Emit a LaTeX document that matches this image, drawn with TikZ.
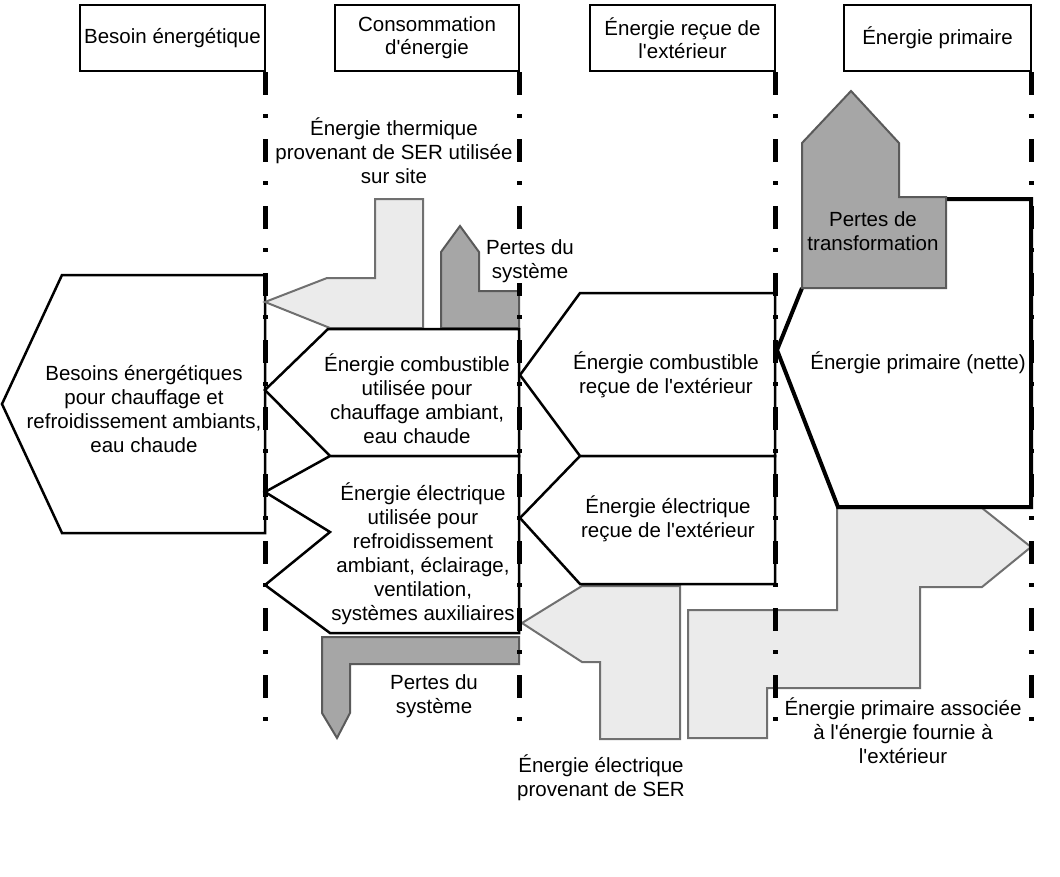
\documentclass[tikz,border=0pt]{standalone}
\usepackage{fontspec}
\setmainfont{Liberation Sans}[Ligatures=TeXOff]
\definecolor{lightfill}{HTML}{EBEBEB}
\definecolor{lightline}{HTML}{707070}
\definecolor{darkfill}{HTML}{A6A6A6}
\definecolor{darkline}{HTML}{5A5A5A}
\tikzset{
  lbl/.style={align=center, font=\fontsize{20.5}{24}\selectfont, inner sep=0pt},
  hdr/.style={draw=black, line width=1.5pt, fill=white, align=center,
    font=\fontsize{20.5}{23}\selectfont, inner sep=0pt, minimum height=66pt},
  flow/.style={draw=black, line width=2.5pt, fill=white, line join=miter},
  netflow/.style={draw=black, line width=4pt, line join=miter},
  lightflow/.style={draw=lightline, line width=2pt, fill=lightfill, line join=miter},
  darkflow/.style={draw=darkline, line width=2pt, fill=darkfill, line join=miter},
  sepline/.style={line width=5pt, dash pattern=on 23pt off 19pt on 4pt off 21pt},
}
\begin{document}
\begin{tikzpicture}[x=1pt,y=-1pt]
\useasboundingbox (0,0) rectangle (1060,876);
\fill[white] (0,0) rectangle (1060,876);

% header boxes
\node[hdr, minimum width=185pt] (h1) at (172.5,38) {Besoin énergétique};
\node[hdr, minimum width=184pt] (h2) at (427,38) {Consommation\\d'énergie};
\node[hdr, minimum width=185pt] (h3) at (682.5,38) {Énergie reçue de\\l'extérieur};
\node[hdr, minimum width=187pt] (h4) at (937.5,38) {Énergie primaire};

% column 1: needs
\draw[flow] (265,275) -- (62,275) -- (2,404) -- (62,533) -- (265,533) -- cycle;

% column 2: consumption
\draw[lightflow] (423,328) -- (423,199) -- (375,199) -- (375,278) -- (327,278) -- (265,302) -- (330,328) -- cycle;
\draw[darkflow] (441,328) -- (441,252) -- (460,226) -- (479,252) -- (479,291) -- (519,291) -- (519,328) -- cycle;
\draw[darkflow] (519,637) -- (322,637) -- (322,713) -- (337,738) -- (350,713) -- (350,664) -- (519,664) -- cycle;
\draw[flow] (519,329) -- (328,329) -- (265,390) -- (330,456) -- (519,456) -- cycle;
\draw[flow] (519,456) -- (330,456) -- (265,492) -- (330,532) -- (265,585) -- (330,633) -- (519,633) -- cycle;

% column 3: delivered
\draw[lightflow] (680,586) -- (582,586) -- (522,623) -- (582,662) -- (600,662) -- (600,739) -- (680,739) -- cycle;
\draw[flow] (775,293) -- (580,293) -- (520,375) -- (580,456) -- (775,456) -- cycle;
\draw[flow] (775,456) -- (580,456) -- (520,518) -- (580,584) -- (775,584) -- cycle;

% column 4: primary
\draw[lightflow] (837,508) -- (982,508) -- (1031,547) -- (982,587) -- (920,587) -- (920,688) -- (767,688) -- (767,738) -- (688,738) -- (688,610) -- (837,610) -- cycle;
\draw[netflow] (946,199) -- (1031,199) -- (1031,507) -- (838,507) -- (777,350) -- (802,288);
\draw[darkflow] (802,288) -- (802,143) -- (851,91) -- (899,143) -- (899,197) -- (946,197) -- (946,288) -- cycle;

% separator lines
\foreach \x/\n in {265/s1,519/s2,775/s3,1031/s4}{
  \coordinate (\n top) at (\x,72);
  \coordinate (\n bot) at (\x,721);
  \draw[sepline] (\n top) -- (\n bot);
}

% labels
\node[lbl] (besoins) at (144,409) {Besoins énergétiques\\pour chauffage et\\refroidissement ambiants,\\eau chaude};
\node[lbl] (thermique) at (394,150.5) {Énergie thermique\\provenant de SER utilisée\\sur site};
\node[lbl, fill=white] (pertes1) at (530,261.5) {Pertes du\\système};
\node[lbl] (combu) at (417,399) {Énergie combustible\\utilisée pour\\chauffage ambiant,\\eau chaude};
\node[lbl] (elecu) at (423,554) {Énergie électrique\\utilisée pour\\refroidissement\\ambiant, éclairage,\\ventilation,\\systèmes auxiliaires};
\node[lbl] (pertes2) at (434,696.5) {Pertes du\\système};
\node[lbl] (combr) at (666,375) {Énergie combustible\\reçue de l'extérieur};
\node[lbl] (elecr) at (668,519) {Énergie électrique\\reçue de l'extérieur};
\node[lbl] (elecser) at (601,778) {Énergie électrique\\provenant de SER};
\node[lbl] (transfo) at (873,231.5) {Pertes de\\transformation};
\node[lbl] (nette) at (918,363) {Énergie primaire (nette)};
\node[lbl] (assoc) at (903,731) {Énergie primaire associée\\à l'énergie fournie à\\l'extérieur};
\end{tikzpicture}
\end{document}
